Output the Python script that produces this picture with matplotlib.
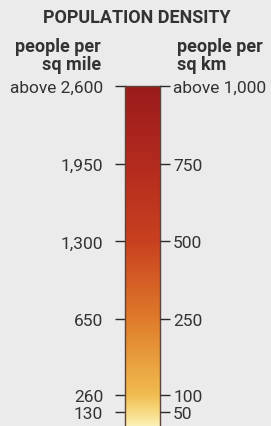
import matplotlib
matplotlib.use("Agg")

import matplotlib.pyplot as plt
from matplotlib.colors import LinearSegmentedColormap
import numpy as np

plt.rcParams["font.family"] = ["Roboto", "DejaVu Sans"]

# ── Data ──────────────────────────────────────────────────────────────────────
TITLE = "POPULATION DENSITY"
LEFT_HEADER = "people per\nsq mile"
RIGHT_HEADER = "people per\nsq km"

KM_TICKS = [1000, 750, 500, 250, 100, 50]
MILE_LABELS = ["above 2,600", "1,950", "1,300", "650", "260", "130"]
KM_LABELS = ["above 1,000", "750", "500", "250", "100", "50"]

# colour stops along the km scale
STOP_VALUES = [0, 50, 100, 250, 500, 750, 1000]
STOP_COLORS = ["#fcefb4", "#f7d981", "#f0bb4e", "#df7a2a", "#c8401f", "#b32a1e", "#9a1b1b"]

# piecewise scale of the legend bar (value -> relative height)
SCALE_VALUES = [0, 50, 100, 250, 1000]
SCALE_HEIGHT = [0, 14, 31, 107, 340]

BG = "#ebebeb"
TEXT = "#333333"


def _forward(v):
    return np.interp(v, SCALE_VALUES, SCALE_HEIGHT)


def _inverse(h):
    return np.interp(h, SCALE_HEIGHT, SCALE_VALUES)


fig = plt.figure(figsize=(2.71, 4.27), dpi=100, facecolor=BG)
ax = fig.add_axes([0.461, 0.0, 0.129, 0.796])
ax.set_facecolor(BG)
ax.set_yscale("function", functions=(_forward, _inverse))

cmap = LinearSegmentedColormap.from_list(
    "dens", [(v / STOP_VALUES[-1], c) for v, c in zip(STOP_VALUES, STOP_COLORS)]
)
edges = np.linspace(0, 1000, 400)
mid = (edges[:-1] + edges[1:]) / 2
ax.pcolormesh([0, 1], edges, mid[:, None], cmap=cmap, vmin=0, vmax=1000,
              shading="flat", rasterized=True)
ax.set_ylim(0, 1000)
ax.set_xlim(0, 1)
ax.set_xticks([])

for s in ax.spines.values():
    s.set_color("#5e4436")
    s.set_linewidth(1.0)
ax.spines["bottom"].set_visible(False)

ax.set_yticks(KM_TICKS)
ax.set_yticklabels(MILE_LABELS)
ax.yaxis.set_minor_locator(matplotlib.ticker.NullLocator())
ax.tick_params(axis="y", direction="out", length=7.2, width=1.0, color="#2a2a2a",
               labelsize=12.5, labelcolor=TEXT, pad=8.5)

ax2 = ax.twinx()
ax2.set_yscale("function", functions=(_forward, _inverse))
ax2.set_ylim(0, 1000)
ax2.set_yticks(KM_TICKS)
ax2.set_yticklabels(KM_LABELS)
ax2.yaxis.set_minor_locator(matplotlib.ticker.NullLocator())
ax2.tick_params(axis="y", direction="out", length=7.5, width=1.0, color="#2a2a2a",
                labelsize=12.5, labelcolor=TEXT, pad=2)
for s in ax2.spines.values():
    s.set_visible(False)

fig.text(0.505, 0.958, TITLE, ha="center", va="center", fontsize=13,
         fontweight="bold", color=TEXT)
fig.text(0.373, 0.869, LEFT_HEADER, ha="right", va="center", fontsize=13,
         fontweight="bold", color=TEXT, linespacing=1.0, multialignment="right")
fig.text(0.653, 0.869, RIGHT_HEADER, ha="left", va="center", fontsize=13,
         fontweight="bold", color=TEXT, linespacing=1.0, multialignment="left")

plt.savefig("out.png", dpi=100, facecolor=fig.get_facecolor())
